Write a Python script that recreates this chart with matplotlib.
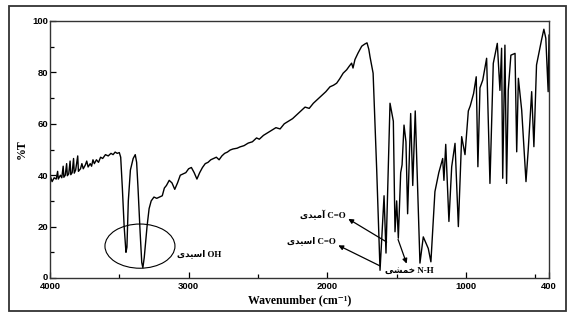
import matplotlib
matplotlib.use("Agg")
import matplotlib.pyplot as plt
from matplotlib.patches import Ellipse, Rectangle
from matplotlib.ticker import FixedLocator
from matplotlib.transforms import ScaledTranslation

# ---- data ----
wavenumber = [4000, 3985, 3970, 3955, 3945, 3940, 3925, 3915, 3905, 3900, 3890, 3880, 3875, 3865,
              3855, 3850, 3840, 3830, 3825, 3815, 3800, 3795, 3780, 3770, 3760, 3745, 3735, 3725,
              3710, 3700, 3690, 3680, 3665, 3650, 3635, 3620, 3600, 3580, 3560, 3545, 3530, 3515,
              3500, 3490, 3478, 3465, 3452, 3445, 3435, 3420, 3400, 3385, 3375, 3365, 3350, 3338,
              3330, 3320, 3300, 3285, 3270, 3250, 3230, 3210, 3190, 3175, 3160, 3140, 3120, 3100,
              3080, 3060, 3040, 3020, 3000, 2980, 2960, 2940, 2920, 2900, 2880, 2860, 2840, 2820,
              2800, 2780, 2760, 2740, 2720, 2700, 2680, 2650, 2630, 2600, 2570, 2540, 2510, 2490,
              2460, 2430, 2400, 2370, 2340, 2310, 2280, 2250, 2220, 2190, 2160, 2130, 2100, 2070,
              2040, 2010, 1980, 1955, 1932, 1910, 1885, 1860, 1840, 1824, 1814, 1800, 1778, 1751,
              1730, 1713, 1700, 1691, 1669, 1643, 1632, 1619, 1590, 1576, 1547, 1523, 1511, 1499,
              1487, 1470, 1460, 1446, 1432, 1420, 1398, 1383, 1365, 1331, 1307, 1271, 1252, 1223,
              1195, 1167, 1158, 1145, 1122, 1102, 1078, 1054, 1030, 1006, 982, 968, 944, 925,
              913, 898, 878, 850, 826, 802, 773, 754, 742, 734, 718, 706, 694, 675,
              645, 633, 621, 597, 566, 550, 525, 509, 490, 454, 437, 423, 406, 400]
transmittance = [40, 37.5, 39, 38.5, 41.5, 38.5, 40, 39, 43.5, 39.2, 40, 44.5, 39.8, 40.5,
                 45.5, 40.2, 41, 46.5, 40.8, 42, 47.5, 41.5, 42.5, 44.5, 42.5, 44, 45.5, 43.2,
                 44.5, 43.5, 46, 44.5, 46, 45, 47, 46.5, 48, 47.5, 48.5, 48, 49, 48.5,
                 48.8, 47, 35, 20, 10, 12, 30, 42, 46.5, 48, 45, 35, 18, 6,
                 4, 8, 20, 27, 30, 31.5, 31, 31.5, 32, 35, 36, 38, 37, 34.5,
                 37, 40, 40.5, 41, 42.5, 43, 41, 38.5, 41, 43, 44.5, 45, 46, 46.5,
                 47, 46, 47.5, 48.5, 49, 49.8, 50.2, 50.5, 51, 51.5, 52.5, 53, 54.5, 54,
                 55.5, 56.5, 57.5, 58.5, 58, 60, 61, 62, 63.5, 65, 66.5, 66, 68, 69.5,
                 71, 72.5, 74.4, 75, 75.8, 77.5, 79.7, 81, 82.5, 83.6, 81.7, 85, 87.5, 90.2,
                 91, 91.5, 89, 86, 79.7, 42, 24, 3, 32, 9.7, 68, 61, 18, 30,
                 15.5, 41, 44, 59.5, 53, 25, 64, 36, 65, 5.8, 16, 11.5, 6.3, 33.6,
                 41, 46.5, 38, 52, 22, 43.3, 52.4, 20, 55, 48, 65, 67, 71.8, 78.3,
                 43.3, 74, 77, 85.5, 36.8, 83.5, 91.3, 73, 89.4, 38.8, 90.6, 36.8, 73, 86.7,
                 87.4, 49.1, 77.7, 65.3, 37.5, 49.8, 72.5, 51.1, 82.9, 92.6, 96.8, 93.3, 72.5, 94.5]

x_major = [4000, 3000, 2000, 1000, 400]
x_major_labels = ["4000", "3000", "2000", "1000", "400"]
x_minor = [3500, 2500, 1500, 500]
y_major = [0, 20, 40, 60, 80, 100]
y_minor = [10, 30, 50, 70, 90]

# Persian words written with Arabic presentation forms in visual order
acidic = "\uFEEF\uFEAA\uFEF4\uFEB3\uFE8D"   # اسیدی
amidic = "\uFEEF\uFEAA\uFEF4\uFEE3\uFE81"   # آمیدی
bending = "\uFEF0\uFEB8\uFEE4\uFEA7"        # خمشی

fig = plt.figure(figsize=(5.69, 3.15), dpi=100)
fig.patch.set_facecolor("white")
fig.patches.append(Rectangle((9 / 569, 1 - 311 / 315), 557 / 569, 305 / 315,
                             transform=fig.transFigure, fill=False,
                             edgecolor="#333333", linewidth=1.3))

ax = fig.add_axes([50 / 569, 1 - 278 / 315, 499 / 569, 257 / 315])
ax.plot(wavenumber, transmittance, color="black", linewidth=1.0)
ax.set_xlim(4000, 400)
ax.set_ylim(0, 100)

ax.xaxis.set_major_locator(FixedLocator(x_major))
ax.set_xticklabels(x_major_labels)
ax.xaxis.set_minor_locator(FixedLocator(x_minor))
ax.yaxis.set_major_locator(FixedLocator(y_major))
ax.yaxis.set_minor_locator(FixedLocator(y_minor))
ax.tick_params(which="both", direction="in", width=0.9)
ax.tick_params(axis="x", pad=3)
ax.tick_params(axis="y", pad=1.5)
ax.tick_params(which="major", length=4)
ax.tick_params(which="minor", length=3)
for lbl in ax.get_xticklabels() + ax.get_yticklabels():
    lbl.set_fontfamily("Liberation Sans")
    lbl.set_fontweight("bold")
    lbl.set_fontsize(6.8)
# lift the "0" label slightly, as in the reference
zero_lbl = ax.get_yticklabels()[0]
zero_lbl.set_transform(zero_lbl.get_transform() + ScaledTranslation(0, 2 / 100, fig.dpi_scale_trans))
for s in ax.spines.values():
    s.set_linewidth(1.0)
    s.set_color("#333333")

ax.set_xlabel("Wavenumber (cm\u207B\u00B9)", family=["Liberation Serif", "DejaVu Serif"],
              fontweight="bold", fontsize=8.5, labelpad=2)
ax.set_ylabel("%T", family="Liberation Serif", fontweight="bold", fontsize=8.5, labelpad=3)

lab_family = ["Liberation Serif", "DejaVu Sans"]
lab_kw = dict(family=lab_family, fontweight="bold", fontsize=6.4, color="black")

# OH ellipse
ax.add_patch(Ellipse((3351, 12.4), 505, 17.2, fill=False, edgecolor="black", linewidth=0.8))
ax.text(3084, 9.3, acidic + " OH", ha="left", va="center", **lab_kw)

arrow_kw = dict(arrowstyle="-|>", color="black", lw=0.9, mutation_scale=7, shrinkA=0, shrinkB=0)
# amide C=O
ax.annotate("", xy=(1848, 23.0), xytext=(1571, 14.0), arrowprops=arrow_kw)
ax.text(1865, 24.6, amidic + " C=O", ha="right", va="center", **lab_kw)
# acid C=O
ax.annotate("", xy=(1920, 12.7), xytext=(1619, 4.7), arrowprops=arrow_kw)
ax.text(1935, 14.4, acidic + " C=O", ha="right", va="center", **lab_kw)
# N-H bending
ax.annotate("", xy=(1427, 5.6), xytext=(1489, 15.0), arrowprops=arrow_kw)
ax.text(1583, 2.8, bending + " N-H", ha="left", va="center", **lab_kw)

fig.savefig("out.png", dpi=100, facecolor="white")
